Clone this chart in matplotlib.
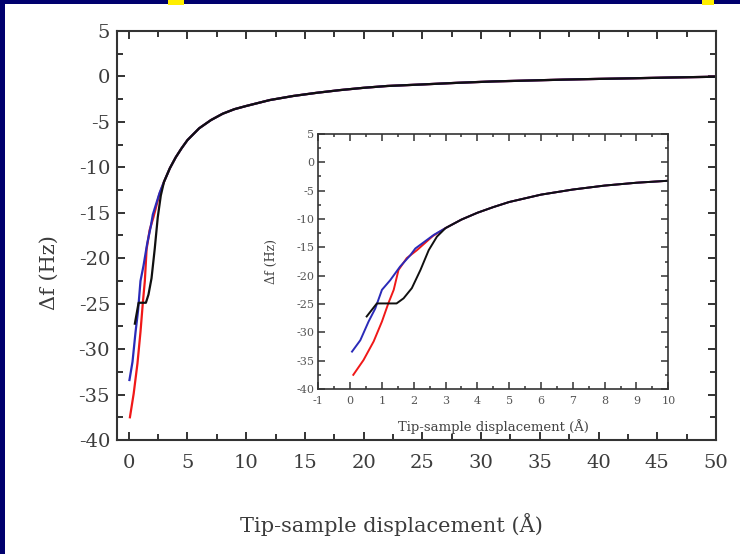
import matplotlib
matplotlib.use("Agg")
import matplotlib.pyplot as plt
from matplotlib.patches import Rectangle
from matplotlib.ticker import MultipleLocator

# Gemeinsamer Fernbereich (alle drei Kurven fallen zusammen)
x_fern = [3.0, 3.5, 4.0, 4.5, 5.0, 6.0, 7.0, 8.0, 9.0, 10.0, 12.0, 14.0, 16.0,
          18.0, 20.0, 22.0, 25.0, 28.0, 31.0, 34.0, 37.0, 40.0, 43.0, 46.0, 50.0]
y_fern = [-11.6, -10.1, -8.9, -7.9, -7.0, -5.7, -4.8, -4.1, -3.6, -3.25, -2.6,
          -2.15, -1.8, -1.5, -1.25, -1.05, -0.88, -0.7, -0.55, -0.45, -0.35,
          -0.27, -0.2, -0.12, -0.03]

# Nahbereich der einzelnen Kurven
x_rot = [0.1, 0.42, 0.74, 1.0, 1.2, 1.37, 1.52, 1.78, 2.1, 2.6]
y_rot = [-37.5, -34.9, -31.6, -28.1, -24.9, -22.5, -19.0, -16.9, -15.5, -13.0]

x_blau = [0.06, 0.32, 0.58, 0.79, 1.0, 1.26, 1.57, 1.89, 2.05, 2.63]
y_blau = [-33.4, -31.4, -28.1, -25.8, -22.5, -20.8, -18.4, -16.4, -15.2, -12.8]

x_schwarz = [0.52, 0.84, 1.46, 1.68, 1.94, 2.21, 2.47, 2.73]
y_schwarz = [-27.2, -24.9, -24.9, -24.0, -22.2, -19.0, -15.5, -13.1]

kurven = [
    (x_rot, y_rot, "#f01818"),
    (x_blau, y_blau, "#2a2ab8"),
    (x_schwarz, y_schwarz, "#101010"),
]

plt.rcParams["font.family"] = ["DejaVu Serif"]
plt.rcParams["axes.unicode_minus"] = False

fig = plt.figure(figsize=(7.4, 5.54), dpi=100)
fig.patch.set_facecolor("#00006e")
fig.add_artist(Rectangle((5 / 740, 0), 1, 550 / 554, transform=fig.transFigure,
                         facecolor="white", edgecolor="none", zorder=0))
# abgeschnittene gelbe Reste der Überschrift
fig.add_artist(Rectangle((168 / 740, 549 / 554), 16 / 740, 5 / 554, transform=fig.transFigure,
                         facecolor="#ffee00", edgecolor="none", zorder=1))
fig.add_artist(Rectangle((702 / 740, 549 / 554), 12 / 740, 5 / 554, transform=fig.transFigure,
                         facecolor="#ffee00", edgecolor="none", zorder=1))

achsenfarbe = "#333333"
textfarbe = "#3c3c3c"


def stil(ax, gross):
    for s in ax.spines.values():
        s.set_color(achsenfarbe)
        s.set_linewidth(1.5 if gross else 1.2)
    if gross:
        ax.tick_params(which="major", direction="in", length=6, width=1.4,
                       top=True, right=True, color=achsenfarbe, labelsize=14,
                       labelcolor=textfarbe)
        ax.tick_params(which="minor", direction="in", length=4, width=1.4,
                       top=True, right=True, color=achsenfarbe)
        ax.tick_params(axis="x", pad=10)
        ax.tick_params(axis="y", pad=5)
    else:
        ax.tick_params(which="major", direction="in", length=5, width=1.1,
                       top=True, right=True, color=achsenfarbe, labelsize=8,
                       labelcolor="#555555", pad=3)
        ax.tick_params(which="minor", direction="in", length=2.5, width=1.1,
                       top=True, right=True, color=achsenfarbe)
        ax.tick_params(axis="x", pad=5)


# Hauptdiagramm
ax = fig.add_axes([117 / 740, 1 - 440 / 554, 599 / 740, 409 / 554])
for xs, ys, farbe in kurven:
    ax.plot(xs + x_fern, ys + y_fern, color=farbe, lw=1.6)
ax.set_xlim(-1, 50)
ax.set_ylim(-40, 5)
ax.set_xticks(range(0, 51, 5))
ax.set_yticks(range(-40, 6, 5))
ax.xaxis.set_minor_locator(MultipleLocator(2.5))
ax.yaxis.set_minor_locator(MultipleLocator(2.5))
stil(ax, True)
ax.set_xlabel("Tip-sample displacement (Å)", fontsize=15, color="#3c3c3c")
ax.xaxis.set_label_coords(0.458, -0.178)
ax.set_ylabel("Δf (Hz)", fontsize=15, color="#3c3c3c")
ax.yaxis.set_label_coords(-0.098, 0.41)

# Einschub (Vergrößerung 0-10 Å)
ein = fig.add_axes([318.3 / 740, 1 - 389 / 554, 350 / 740, 255 / 554])
for xs, ys, farbe in kurven:
    ein.plot(xs + x_fern, ys + y_fern, color=farbe, lw=1.4)
ein.set_xlim(-1, 10)
ein.set_ylim(-40, 5)
ein.set_xticks(range(-1, 11))
ein.set_yticks(range(-40, 6, 5))
ein.xaxis.set_minor_locator(MultipleLocator(0.5))
ein.yaxis.set_minor_locator(MultipleLocator(2.5))
stil(ein, False)
ein.set_xlabel("Tip-sample displacement (Å)", fontsize=9.5, color="#444444")
ein.xaxis.set_label_coords(0.5, -0.118)
ein.set_ylabel("Δf (Hz)", fontsize=9, color="#444444")
ein.yaxis.set_label_coords(-0.114, 0.5)

fig.savefig("out.png", dpi=100, facecolor=fig.get_facecolor())
